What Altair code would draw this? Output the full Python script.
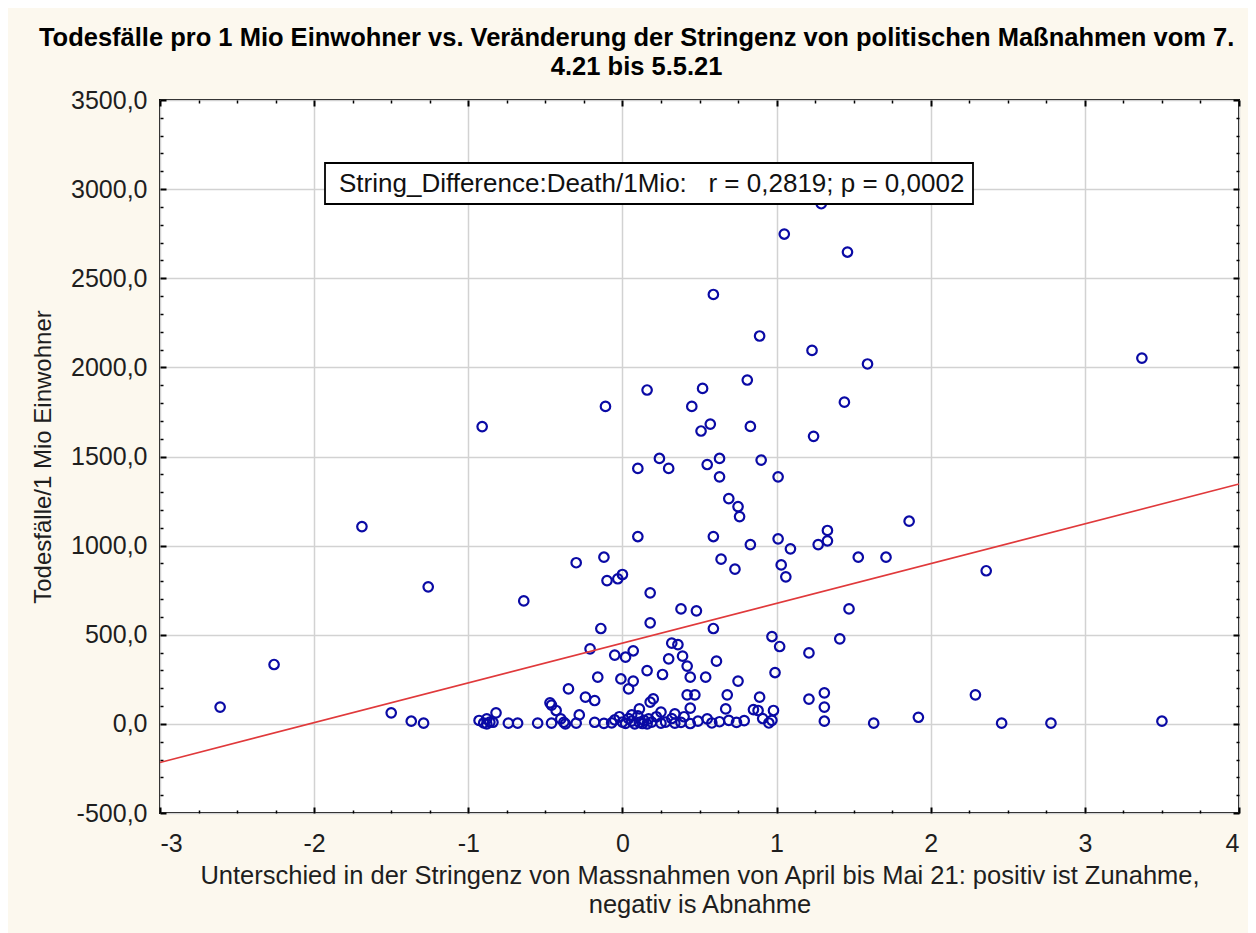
import altair as alt
import pandas as pd

TITLE = ["Todesfälle pro 1 Mio Einwohner vs. Veränderung der Stringenz von politischen Maßnahmen vom 7.",
         "4.21 bis 5.5.21"]
X_TITLE = ["Unterschied in der Stringenz von Massnahmen von April bis Mai 21: positiv ist Zunahme,",
           "negativ is Abnahme"]
Y_TITLE = "Todesfälle/1 Mio Einwohner"
ANNOTATION = "String_Difference:Death/1Mio:\u00a0\u00a0\u00a0r = 0,2819; p = 0,0002"

string_difference = [
    1.29, 1.05, 1.46, 0.59, 0.89, 1.23, 1.59, 3.37, 0.81, 0.52,
    0.16, -0.11, 0.45, 1.44, 0.83, 0.57, 0.51, 1.24, -0.91, 0.24,
    0.63, 0.10, 0.30, 0.55, 0.90, 0.63, 1.01, 0.69, 0.75, 0.76,
    -1.69, 1.86, 0.10, 0.59, 0.83, 1.01, 1.09, 1.33, 1.33, 1.27,
    1.53, 1.71, -0.30, -0.12, 0.64, 0.73, 1.03, 1.06, 2.36, -1.26,
    -0.10, -0.03, 0.00, -0.64, 0.18, 0.38, 0.48, 1.47, 0.59, -0.14,
    0.18, 0.97, 1.41, -0.21, 1.02, 0.32, 0.36, 0.07, 1.21, -0.05,
    0.02, 0.39, 0.30, 0.61, -2.26, 0.42, 0.16, 0.99, 0.26, -0.16,
    0.44, 0.54, -0.01, 0.75, 0.07, -0.35, 0.04, 2.29, 1.31, 0.42,
    0.47, 0.68, -0.24, 0.89, 1.21, 0.20, 0.18, -0.18, -0.47, -0.46,
    -2.61, 1.31, 0.44, 0.67, 0.11, 0.85, 0.88, 0.98, -0.43, -1.50,
    -0.82, 0.25, 0.34, -0.28, 1.92, -1.37, -1.29, 1.31, 1.63, 2.46,
    2.78, 3.50, -0.93, -0.90, -0.88, -0.88, -0.86, -0.84, -0.74, -0.68,
    -0.55, -0.46, -0.40, -0.38, -0.37, -0.30, -0.18, -0.12, -0.07, -0.05,
    -0.02, 0.00, 0.02, 0.04, 0.06, 0.08, 0.10, 0.11, 0.13, 0.14,
    0.16, 0.19, 0.22, 0.25, 0.28, 0.32, 0.34, 0.38, 0.40, 0.44,
    0.49, 0.55, 0.58, 0.63, 0.69, 0.74, 0.79, 0.91, 0.95, 0.97,
    0.06, 0.17,
]
deaths_per_mio = [
    2918, 2748, 2647, 2409, 2176, 2095, 2019, 2052, 1929, 1882,
    1873, 1781, 1781, 1805, 1669, 1682, 1643, 1613, 1668, 1489,
    1489, 1433, 1433, 1455, 1480, 1386, 1386, 1264, 1219, 1163,
    1107, 1137, 1051, 1051, 1006, 1038, 982, 1085, 1027, 1006,
    935, 935, 904, 935, 924, 868, 892, 825, 859, 769,
    804, 814, 838, 690, 735, 645, 634, 645, 535, 535,
    567, 490, 477, 421, 434, 453, 445, 410, 398, 386,
    374, 380, 365, 352, 333, 324, 299, 288, 277, 262,
    262, 262, 252, 240, 240, 196, 196, 163, 174, 163,
    163, 163, 150, 150, 139, 140, 122, 131, 118, 105,
    94, 94, 88, 84, 84, 80, 75, 75, 75, 62,
    62, 66, 56, 50, 37, 15, 4, 15, 4, 4,
    4, 15, 19, 5, 0, 28, 10, 9, 4, 4,
    4, 4, 28, 9, 0, 4, 9, 3, 6, 22,
    40, 10, 3, 30, 15, 0, 45, 8, 2, 20,
    0, 10, 40, 4, 10, 30, 4, 8, 40, 2,
    15, 28, 5, 12, 20, 8, 18, 30, 5, 20,
    50, 28,
]

X_TICKS = [-3, -2, -1, 0, 1, 2, 3, 4]
Y_TICKS = [-500, 0, 500, 1000, 1500, 2000, 2500, 3000, 3500]
X_MINOR = [v / 4 for v in range(-12, 17) if v % 4 != 0]
Y_MINOR = [v for v in range(-500, 3501, 100) if v % 500 != 0]

FONT = "Liberation Sans"
BG = "#FCF8EE"
POINT_COLOR = "#0A0AA5"
LINE_COLOR = "#E0393B"
TEXT_COLOR = "#1E1E1E"
W, H = 1079, 713

df = pd.DataFrame({"diff": string_difference, "deaths": deaths_per_mio})
ann = pd.DataFrame({"label": [ANNOTATION]})

xs = alt.Scale(domain=[-3, 4], nice=False, zero=False)
ys = alt.Scale(domain=[-500, 3500], nice=False, zero=False)

num_x = "replace(format(datum.value, 'd'), '\u2212', '-')"
num_y = "replace(replace(format(datum.value, '.1f'), '.', ','), '\u2212', '-')"


def tick_axis(orient, values, size, width):
    return alt.Axis(orient=orient, values=values, labels=False, title=None, grid=False,
                    domain=False, ticks=True, tickSize=size, tickWidth=width,
                    tickColor="black", offset=-size)


points = alt.Chart(df).mark_point(
    shape="circle", filled=False, size=90, strokeWidth=2.2, color=POINT_COLOR, opacity=1
).encode(
    x=alt.X("diff:Q", scale=xs, axis=alt.Axis(
        orient="bottom", values=X_TICKS, labelExpr=num_x, title=X_TITLE,
        grid=True, gridColor="#D2D2D2", gridWidth=1.5, ticks=False, domain=False,
        labelFont=FONT, labelFontSize=25, labelColor=TEXT_COLOR, labelPadding=18,
        titleFont=FONT, titleFontSize=25.5, titleFontWeight="normal", titleColor=TEXT_COLOR,
        titleY=50, titleBaseline="top", titleLineHeight=29)),
    y=alt.Y("deaths:Q", scale=ys, axis=alt.Axis(
        orient="left", values=Y_TICKS, labelExpr=num_y, title=Y_TITLE,
        grid=True, gridColor="#D2D2D2", gridWidth=1.5, ticks=False, domain=False,
        labelFont=FONT, labelFontSize=25, labelColor=TEXT_COLOR, labelPadding=13,
        titleFont=FONT, titleFontSize=24, titleFontWeight="normal", titleColor=TEXT_COLOR,
        titleX=-117, titleY=H / 2, titleAngle=270, titleBaseline="middle")),
)

reg = alt.Chart(df).transform_regression(
    "diff", "deaths", extent=[-3, 4]
).mark_line(color=LINE_COLOR, strokeWidth=1.6).encode(
    x=alt.X("diff:Q", scale=xs, axis=tick_axis("top", X_TICKS, 6, 2)),
    y=alt.Y("deaths:Q", scale=ys, axis=tick_axis("right", Y_TICKS, 6, 2)),
)


def ghost(xaxis, yaxis):
    return alt.Chart(df).mark_point(opacity=0, size=1).encode(
        x=alt.X("diff:Q", scale=xs, axis=xaxis),
        y=alt.Y("deaths:Q", scale=ys, axis=yaxis),
    )


g1 = ghost(tick_axis("bottom", X_TICKS, 6, 2), tick_axis("left", Y_TICKS, 6, 2))
g2 = ghost(tick_axis("top", X_MINOR, 3, 1.5), tick_axis("right", Y_MINOR, 3, 1.5))
g3 = ghost(tick_axis("bottom", X_MINOR, 3, 1.5), tick_axis("left", Y_MINOR, 3, 1.5))

box = alt.Chart(ann).mark_rect(fill="white", stroke="black", strokeWidth=1.8).encode(
    x=alt.value(165), x2=alt.value(813), y=alt.value(63), y2=alt.value(104)
)
box_text = alt.Chart(ann).mark_text(
    align="left", baseline="middle", font=FONT, fontSize=26, color="#111111"
).encode(x=alt.value(179), y=alt.value(84), text="label:N")

chart = alt.layer(points, reg, g1, g2, g3, box, box_text).resolve_axis(
    x="independent", y="independent"
).properties(
    width=W, height=H,
    title=alt.TitleParams(TITLE, font=FONT, fontSize=25.5, fontWeight="bold", color="black",
                          anchor="middle", frame="bounds", offset=8, lineHeight=29),
    background=BG,
    padding={"left": 152, "top": 92, "right": 9, "bottom": 120},
    autosize=alt.AutoSizeParams(type="none"),
).configure_view(fill="white", stroke="black", strokeWidth=2)

chart.save("out.html", embed_options={"renderer": "svg", "actions": False})
